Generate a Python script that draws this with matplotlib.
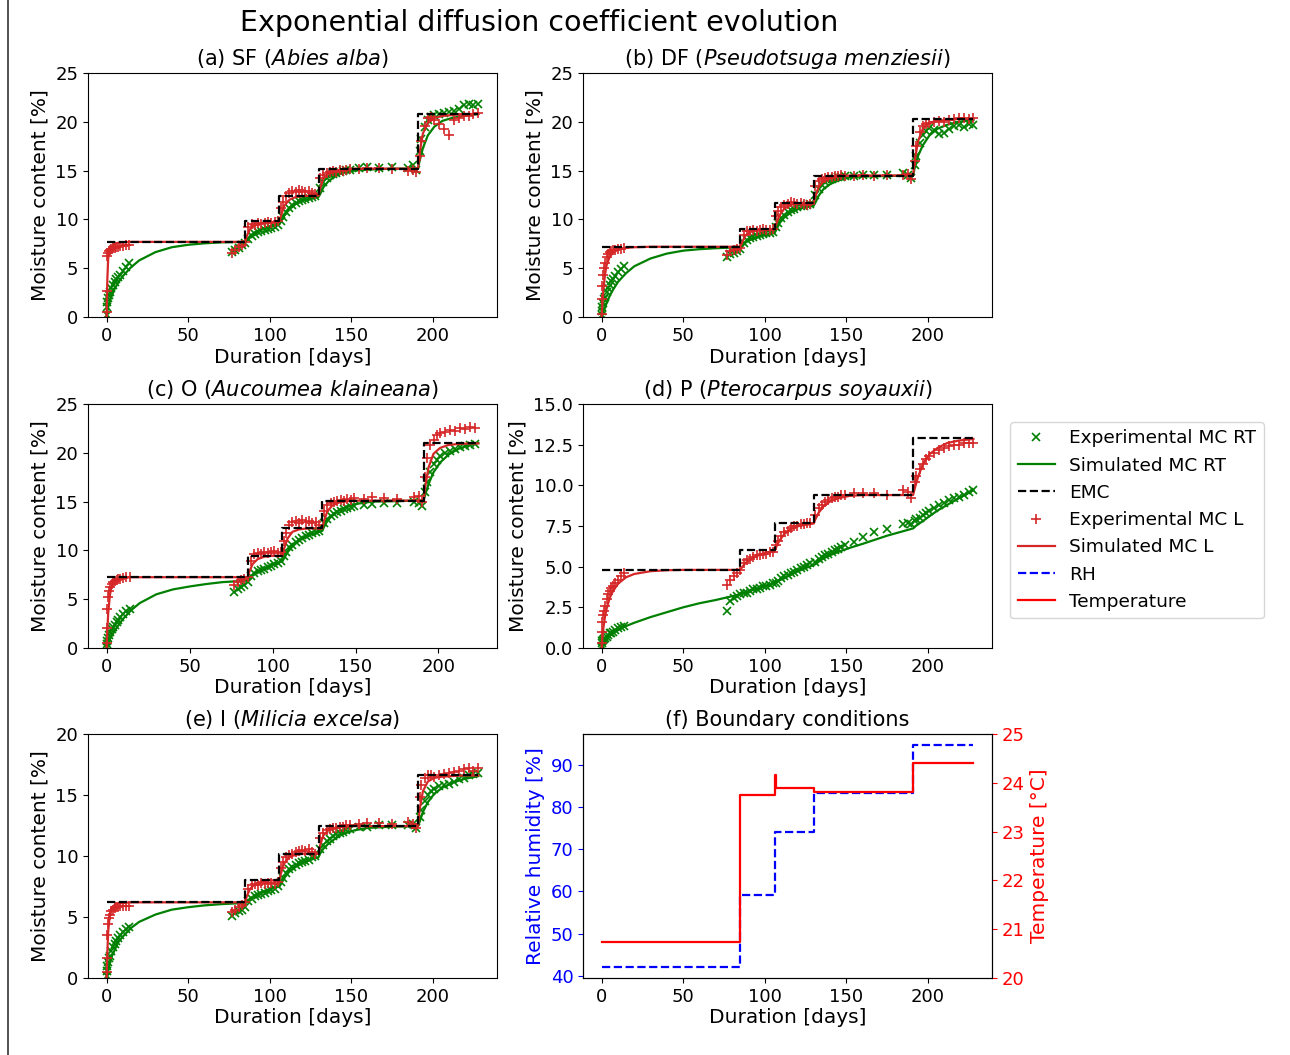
import matplotlib.pyplot as plt
import numpy as np
from matplotlib.lines import Line2D

# measurement days (shared by all specimens)
t_exp = [0, 0, 0.5, 1, 1.5, 2, 3, 4, 5, 6, 7, 8, 10, 12, 14,
         77, 79, 81, 83, 85, 87, 89, 91, 93, 95, 97, 99, 101, 103, 105,
         107, 108, 110, 112, 114, 116, 118, 120, 122, 124, 126, 128,
         131, 133, 135, 137, 139, 141, 143, 145, 147, 149,
         155, 160, 167, 175, 185, 188, 190,
         192, 193, 195, 197, 199, 201, 204, 207, 210, 213, 216, 219, 222, 225, 228]

# simulation output days
t_sim = [0, 0.5, 1, 2, 3, 5, 7, 10, 15, 20, 30, 40, 50, 60, 70,
         85, 86, 88, 91, 95, 100, 106, 107, 109, 112, 116, 121, 130, 131, 133,
         136, 140, 145, 152, 160, 175, 191, 192, 194, 197, 201, 206, 212, 219, 228]

# climate step changes
t_step = [0, 85, 106, 130, 191, 228]

# (a) SF
emc_a = [7.7, 9.8, 12.45, 15.2, 20.8]
exp_rt_a = [0.2, 1.0, 1.5, 2.0, 2.3, 2.6, 3.0, 3.3, 3.6, 3.9, 4.1, 4.3, 4.7, 5.1, 5.5,
            6.7, 6.9, 7.1, 7.4, 7.6, 8.0, 8.3, 8.5, 8.7, 8.8, 8.9, 9.0, 9.1, 9.2, 9.4,
            9.8, 10.2, 10.8, 11.2, 11.5, 11.7, 11.9, 12.0, 12.1, 12.2, 12.3, 12.4,
            13.2, 13.8, 14.2, 14.5, 14.7, 14.8, 14.9, 15.0, 15.1, 15.1,
            15.3, 15.4, 15.3, 15.4, 15.3, 15.6, 15.1,
            17.0, 18.2, 19.5, 20.2, 20.5, 20.7, 20.8, 20.9, 21.0, 21.1, 21.3, 21.7, 21.8, 21.7, 21.8]
exp_l_a = [0.5, 2.7, 6.3, 6.6, 6.8, 6.9, 7.0, 7.1, 7.1, 7.2, 7.2, 7.3, 7.3, 7.4, 7.4,
           6.6, 6.9, 7.2, 7.4, 7.7, 9.2, 9.5, 9.4, 9.6, 9.5, 9.6, 9.7, 9.6, 9.7, 9.8,
           11.2, 11.8, 12.4, 12.7, 12.9, 12.8, 13.0, 12.9, 12.8, 12.9, 12.7, 12.6,
           14.2, 14.6, 14.8, 14.9, 15.0, 14.9, 15.1, 15.0, 15.1, 15.2,
           15.2, 15.3, 15.3, 15.2, 15.0, 15.1, 14.9,
           16.5, 18.0, 19.6, 20.4, 20.5, 20.2, 19.8, 19.3, 18.6, 20.2, 20.4, 20.6, 20.6, 20.8, 20.9]
sim_rt_a = [0, 0.6, 1.0, 1.6, 2.1, 2.9, 3.5, 4.2, 5.1, 5.8, 6.65, 7.15, 7.4, 7.55, 7.65,
            7.7, 7.9, 8.3, 8.7, 9.0, 9.3, 9.5, 9.8, 10.4, 11.0, 11.6, 12.0, 12.3, 12.6, 13.3,
            13.9, 14.4, 14.8, 15.0, 15.1, 15.2, 15.2, 16.0, 17.3, 18.6, 19.5, 20.1, 20.4, 20.6, 20.8]
sim_l_a = [0, 4.0, 6.0, 6.9, 7.2, 7.5, 7.6, 7.65, 7.7, 7.7, 7.7, 7.7, 7.7, 7.7, 7.7,
           7.7, 8.3, 9.0, 9.4, 9.6, 9.7, 9.75, 10.4, 11.4, 12.0, 12.3, 12.4, 12.45, 13.2, 14.2,
           14.7, 15.0, 15.1, 15.2, 15.2, 15.2, 15.2, 16.8, 18.8, 19.9, 20.4, 20.6, 20.7, 20.8, 20.8]

# (b) DF
emc_b = [7.2, 9.0, 11.7, 14.45, 20.3]
exp_rt_b = [0.2, 0.6, 1.0, 1.4, 1.8, 2.1, 2.6, 3.0, 3.3, 3.7, 3.9, 4.2, 4.6, 4.9, 5.2,
            6.2, 6.5, 6.6, 6.8, 7.0, 7.6, 7.9, 8.1, 8.2, 8.3, 8.4, 8.5, 8.6, 8.6, 8.7,
            9.2, 9.6, 10.1, 10.5, 10.8, 11.0, 11.1, 11.3, 11.4, 11.4, 11.5, 11.6,
            12.5, 13.1, 13.5, 13.8, 14.0, 14.1, 14.2, 14.3, 14.3, 14.4,
            14.4, 14.5, 14.6, 14.5, 14.8, 14.6, 14.2,
            15.6, 16.5, 17.8, 18.6, 19.1, 19.4, 19.2, 18.8, 18.9, 19.3, 19.6, 19.7, 19.5, 19.8, 19.7]
exp_l_b = [0.3, 1.8, 3.2, 4.3, 5.0, 5.5, 6.2, 6.5, 6.7, 6.8, 6.9, 6.9, 7.0, 7.0, 7.1,
           6.4, 6.8, 6.9, 7.0, 7.1, 8.4, 8.8, 8.8, 8.9, 8.8, 8.9, 9.0, 8.9, 8.9, 9.0,
           10.3, 10.9, 11.3, 11.5, 11.6, 11.8, 11.7, 11.6, 11.7, 11.6, 11.5, 11.6,
           13.4, 13.9, 14.1, 14.2, 14.3, 14.3, 14.4, 14.4, 14.5, 14.4,
           14.4, 14.5, 14.4, 14.5, 14.5, 14.7, 14.1,
           16.0, 17.5, 19.0, 19.6, 19.8, 19.9, 20.0, 20.1, 20.0, 20.2, 20.3, 20.4, 20.4, 20.3, 20.4]
sim_rt_b = [0, 0.3, 0.6, 1.0, 1.4, 2.2, 2.8, 3.6, 4.5, 5.2, 6.0, 6.5, 6.8, 6.95, 7.05,
            7.15, 7.3, 7.6, 7.9, 8.2, 8.4, 8.6, 8.9, 9.6, 10.2, 10.7, 11.1, 11.4, 11.7, 12.4,
            13.1, 13.6, 14.0, 14.3, 14.4, 14.45, 14.5, 15.3, 16.5, 17.6, 18.6, 19.3, 19.7, 20.0, 20.2]
sim_l_b = [0, 1.5, 2.7, 4.3, 5.3, 6.2, 6.6, 6.9, 7.1, 7.15, 7.2, 7.2, 7.2, 7.2, 7.2,
           7.2, 7.6, 8.3, 8.7, 8.9, 9.0, 9.0, 9.5, 10.4, 11.1, 11.5, 11.65, 11.7, 12.3, 13.3,
           13.9, 14.2, 14.4, 14.5, 14.5, 14.5, 14.5, 16.0, 18.0, 19.3, 19.9, 20.1, 20.2, 20.3, 20.3]

# (c) O  (test ended at day 224)
emc_c = [7.25, 9.45, 12.25, 15.1, 20.95]
exp_rt_c = [0.1, 0.4, 0.7, 1.0, 1.3, 1.6, 1.9, 2.1, 2.4, 2.7, 2.9, 3.2, 3.5, 3.8, 4.0,
            5.7, 6.0, 6.2, 6.5, 6.8, 7.4, 7.7, 7.9, 8.0, 8.1, 8.3, 8.4, 8.6, 8.7, 8.9,
            9.4, 9.8, 10.3, 10.6, 10.9, 11.1, 11.3, 11.5, 11.6, 11.8, 11.9, 12.0,
            12.8, 13.2, 13.5, 13.7, 13.9, 14.0, 14.2, 14.3, 14.4, 14.5,
            14.6, 14.8, 14.9, 14.9, 15.0, 14.9, 14.5,
            16.0, 17.0, 18.0, 18.8, 19.3, 19.7, 20.0, 20.2, 20.4, 20.6, 20.7, 20.8, 20.9, np.nan, np.nan]
exp_l_c = [0.5, 2.0, 4.0, 5.2, 5.8, 6.2, 6.6, 6.8, 6.9, 7.0, 7.1, 7.1, 7.2, 7.3, 7.3,
           6.5, 6.8, 7.0, 7.1, 7.3, 8.9, 9.6, 9.7, 9.6, 9.8, 9.7, 9.8, 9.9, 9.7, 9.8,
           11.0, 11.8, 12.6, 12.9, 13.0, 12.8, 13.1, 12.9, 13.0, 12.8, 12.9, 12.6,
           14.0, 14.6, 14.9, 15.0, 15.1, 15.2, 15.1, 15.3, 15.2, 15.4,
           15.3, 15.5, 15.4, 15.3, 15.5, 15.6, 15.0,
           17.5, 19.5, 20.8, 21.3, 21.8, 22.0, 22.1, 22.3, 22.2, 22.5, 22.4, 22.6, 22.5, np.nan, np.nan]
sim_rt_c = [0, 0.3, 0.5, 0.9, 1.2, 1.8, 2.3, 3.0, 3.9, 4.6, 5.5, 6.0, 6.3, 6.55, 6.75,
            6.9, 7.1, 7.4, 7.8, 8.1, 8.5, 8.9, 9.2, 9.8, 10.4, 11.0, 11.5, 12.0, 12.4, 13.0,
            13.6, 14.1, 14.5, 14.8, 15.0, 15.05, 15.1, 15.7, 16.8, 18.0, 19.0, 19.8, 20.4, 20.8, 21.0]
sim_l_c = [0, 2.0, 3.6, 5.4, 6.3, 6.9, 7.1, 7.2, 7.25, 7.25, 7.25, 7.25, 7.25, 7.25, 7.25,
           7.25, 7.8, 8.6, 9.1, 9.35, 9.45, 9.45, 10.2, 11.2, 11.9, 12.15, 12.25, 12.25, 13.0, 14.0,
           14.6, 14.9, 15.05, 15.1, 15.1, 15.1, 15.1, 16.5, 18.5, 19.9, 20.5, 20.8, 20.9, 20.95, 20.95]

# (d) P
emc_d = [4.8, 6.0, 7.7, 9.4, 12.9]
exp_rt_d = [0.1, 0.3, 0.4, 0.5, 0.55, 0.6, 0.7, 0.8, 0.9, 0.95, 1.0, 1.1, 1.2, 1.3, 1.35,
            2.3, 2.9, 3.1, 3.2, 3.3, 3.4, 3.4, 3.5, 3.6, 3.6, 3.7, 3.8, 3.8, 3.9, 4.0,
            4.0, 4.1, 4.3, 4.4, 4.5, 4.6, 4.7, 4.8, 4.9, 5.0, 5.1, 5.2,
            5.3, 5.5, 5.6, 5.7, 5.8, 5.9, 6.0, 6.1, 6.2, 6.3,
            6.5, 6.8, 7.1, 7.3, 7.6, 7.7, 7.6,
            7.8, 7.9, 8.0, 8.2, 8.3, 8.4, 8.6, 8.8, 8.9, 9.1, 9.2, 9.3, 9.4, 9.6, 9.7]
exp_l_d = [0.3, 1.0, 1.6, 2.0, 2.3, 2.6, 3.0, 3.3, 3.5, 3.7, 3.8, 4.0, 4.2, 4.4, 4.6,
           3.9, 4.2, 4.4, 4.6, 4.8, 5.2, 5.4, 5.5, 5.6, 5.7, 5.7, 5.8, 5.8, 5.9, 5.9,
           6.3, 6.6, 6.9, 7.1, 7.2, 7.4, 7.5, 7.5, 7.6, 7.6, 7.7, 7.7,
           8.2, 8.6, 8.8, 9.0, 9.1, 9.2, 9.3, 9.3, 9.4, 9.4,
           9.5, 9.5, 9.5, 9.4, 9.7, 9.6, 9.2,
           10.2, 10.6, 11.0, 11.3, 11.6, 11.8, 12.0, 12.2, 12.3, 12.4, 12.5, 12.5, 12.6, 12.6, 12.6]
sim_rt_d = [0, 0.1, 0.2, 0.35, 0.5, 0.75, 0.9, 1.1, 1.35, 1.55, 1.9, 2.2, 2.5, 2.75, 2.95,
            3.3, 3.35, 3.4, 3.5, 3.65, 3.8, 4.0, 4.05, 4.15, 4.3, 4.5, 4.75, 5.1, 5.15, 5.3,
            5.5, 5.7, 5.9, 6.15, 6.4, 6.9, 7.35, 7.45, 7.6, 7.8, 8.1, 8.45, 8.8, 9.2, 9.7]
sim_l_d = [0, 0.7, 1.2, 1.9, 2.4, 3.1, 3.5, 3.95, 4.35, 4.55, 4.72, 4.78, 4.8, 4.8, 4.8,
           4.8, 4.95, 5.2, 5.45, 5.65, 5.85, 5.95, 6.2, 6.6, 7.0, 7.3, 7.5, 7.65, 7.9, 8.3,
           8.7, 9.0, 9.2, 9.35, 9.4, 9.4, 9.4, 9.8, 10.5, 11.3, 11.9, 12.3, 12.6, 12.75, 12.85]

# (e) I
emc_e = [6.2, 8.0, 10.2, 12.45, 16.6]
exp_rt_e = [0.2, 0.6, 1.0, 1.3, 1.6, 1.8, 2.2, 2.5, 2.8, 3.0, 3.3, 3.5, 3.8, 4.0, 4.2,
            5.1, 5.3, 5.5, 5.6, 5.8, 6.3, 6.5, 6.7, 6.8, 6.9, 7.0, 7.1, 7.2, 7.3, 7.5,
            7.9, 8.2, 8.6, 8.9, 9.1, 9.3, 9.4, 9.5, 9.6, 9.7, 9.9, 10.0,
            10.6, 10.9, 11.2, 11.4, 11.6, 11.8, 11.9, 12.0, 12.1, 12.2,
            12.4, 12.4, 12.5, 12.5, 12.5, 12.6, 12.3,
            13.2, 13.8, 14.5, 15.0, 15.3, 15.5, 15.7, 15.8, 15.9, 16.1, 16.3, 16.4, 16.6, 16.7, 16.8]
exp_l_e = [0.5, 1.6, 3.5, 4.4, 4.9, 5.2, 5.5, 5.6, 5.7, 5.8, 5.8, 5.9, 5.9, 5.9, 5.9,
           5.4, 5.6, 5.8, 6.0, 6.2, 7.3, 7.6, 7.7, 7.6, 7.8, 7.7, 7.8, 7.8, 7.7, 7.9,
           9.0, 9.5, 9.9, 10.1, 10.2, 10.3, 10.4, 10.5, 10.4, 10.6, 10.3, 10.2,
           11.5, 11.9, 12.1, 12.2, 12.3, 12.3, 12.4, 12.4, 12.5, 12.5,
           12.6, 12.7, 12.7, 12.6, 12.8, 12.6, 12.3,
           14.8, 15.8, 16.4, 16.6, 16.6, 16.5, 16.6, 16.7, 16.8, 16.9, 17.0, 17.1, 17.2, 17.0, 17.2]
sim_rt_e = [0, 0.3, 0.6, 1.2, 1.7, 2.3, 2.9, 3.4, 4.1, 4.6, 5.2, 5.6, 5.8, 5.95, 6.05,
            6.15, 6.3, 6.5, 6.8, 7.0, 7.3, 7.5, 7.7, 8.2, 8.7, 9.1, 9.5, 9.9, 10.2, 10.6,
            11.0, 11.4, 11.8, 12.1, 12.3, 12.4, 12.45, 12.8, 13.6, 14.4, 15.1, 15.6, 16.0, 16.3, 16.55]
sim_l_e = [0, 2.2, 3.8, 5.2, 5.7, 6.0, 6.1, 6.15, 6.2, 6.2, 6.2, 6.2, 6.2, 6.2, 6.2,
           6.2, 6.7, 7.3, 7.7, 7.9, 8.0, 8.0, 8.6, 9.4, 9.9, 10.1, 10.2, 10.2, 10.9, 11.7,
           12.1, 12.3, 12.4, 12.45, 12.45, 12.45, 12.45, 13.8, 15.3, 16.1, 16.4, 16.5, 16.55, 16.6, 16.6]

# (f) boundary conditions
rh_levels = [42.1, 59.2, 74.0, 83.4, 94.7]
t_temp = [0, 85, 106, 106.8, 130, 191, 228]
temp_levels = [20.74, 23.74, 24.15, 23.9, 23.81, 24.41]

panels = [
    (r'(a) SF ($\it{Abies\ alba}$)', emc_a, exp_rt_a, exp_l_a, sim_rt_a, sim_l_a, 25, 5, 228),
    (r'(b) DF ($\it{Pseudotsuga\ menziesii}$)', emc_b, exp_rt_b, exp_l_b, sim_rt_b, sim_l_b, 25, 5, 228),
    (r'(c) O ($\it{Aucoumea\ klaineana}$)', emc_c, exp_rt_c, exp_l_c, sim_rt_c, sim_l_c, 25, 5, 224),
    (r'(d) P ($\it{Pterocarpus\ soyauxii}$)', emc_d, exp_rt_d, exp_l_d, sim_rt_d, sim_l_d, 15, 2.5, 228),
    (r'(e) I ($\it{Milicia\ excelsa}$)', emc_e, exp_rt_e, exp_l_e, sim_rt_e, sim_l_e, 20, 5, 228),
]

plt.rcParams['font.size'] = 13

fig = plt.figure(figsize=(12.9, 10.55), dpi=100)

lefts = [0.0682, 0.452]
bottoms = [0.6995, 0.3858, 0.073]
w, h = 0.317, 0.2313

c_rt = 'green'
c_l = 'tab:red'
lab = 14.5

for i, (title, emc, e_rt, e_l, s_rt, s_l, ytop, ystep, t_end) in enumerate(panels):
    ax = fig.add_axes([lefts[i % 2], bottoms[i // 2], w, h])
    ts = np.minimum(t_sim, t_end)
    tst = np.minimum(t_step, t_end)
    ax.plot(t_exp, e_rt, 'x', color=c_rt, ms=6, mew=1.2)
    ax.plot(ts, s_rt, '-', color=c_rt, lw=1.6)
    ax.plot(t_exp, e_l, '+', color=c_l, ms=7, mew=1.2)
    ax.plot(ts, s_l, '-', color=c_l, lw=1.6)
    ax.plot(tst, emc + [emc[-1]], '--', color='black', lw=1.6, drawstyle='steps-post')
    ax.set_ylim(0, ytop)
    ax.set_yticks(np.arange(0, ytop + 0.01, ystep))
    ax.set_xticks([0, 50, 100, 150, 200])
    ax.set_title(title, fontsize=15, pad=6)
    ax.set_xlabel('Duration [days]', fontsize=lab, labelpad=2)
    ax.set_ylabel('Moisture content [%]', fontsize=lab)

# boundary conditions panel
ax = fig.add_axes([lefts[1], bottoms[2], w, h])
ax.plot(t_step, rh_levels + [rh_levels[-1]], '--', color='blue', lw=1.6, drawstyle='steps-post')
ax.set_ylabel('Relative humidity [%]', color='blue', fontsize=lab)
ax.tick_params(axis='y', colors='blue')
ax.set_xticks([0, 50, 100, 150, 200])
ax.set_xlabel('Duration [days]', fontsize=lab, labelpad=2)
ax.set_title('(f) Boundary conditions', fontsize=15, pad=6)
ax2 = ax.twinx()
ax2.plot(t_temp, temp_levels + [temp_levels[-1]], '-', color='red', lw=1.6, drawstyle='steps-post')
ax2.set_ylim(20, 25)
ax2.set_ylabel('Temperature [°C]', color='red', fontsize=lab)
ax2.tick_params(axis='y', colors='red')

fig.suptitle('Exponential diffusion coefficient evolution', fontsize=20.5, x=0.418, y=0.991)

handles = [
    Line2D([], [], ls='', marker='x', color=c_rt, ms=6, mew=1.2),
    Line2D([], [], color=c_rt, lw=1.6),
    Line2D([], [], color='black', ls='--', lw=1.6),
    Line2D([], [], ls='', marker='+', color=c_l, ms=7, mew=1.2),
    Line2D([], [], color=c_l, lw=1.6),
    Line2D([], [], color='blue', ls='--', lw=1.6),
    Line2D([], [], color='red', lw=1.6),
]
labels = ['Experimental MC RT', 'Simulated MC RT', 'EMC', 'Experimental MC L',
          'Simulated MC L', 'RH', 'Temperature']
fig.legend(handles, labels, loc='center left', bbox_to_anchor=(0.776, 0.507), fontsize=13.3)

# page border on the left
fig.add_artist(Line2D([0.0065, 0.0065], [0, 1], color='#333333', lw=1.2))

fig.savefig('out.png', dpi=100)
